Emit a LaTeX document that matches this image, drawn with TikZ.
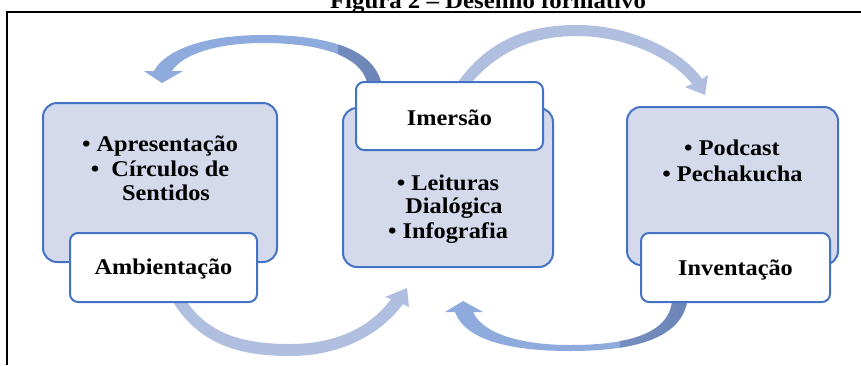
\documentclass[tikz,border=0pt]{standalone}
\usepackage{fontspec}
\setmainfont[FakeStretch=1.08]{Liberation Serif}
\definecolor{boxfill}{RGB}{212,218,236}
\definecolor{bord}{RGB}{68,114,196}
\definecolor{lightarrow}{RGB}{176,190,224}
\definecolor{medarrow}{RGB}{143,170,220}
\definecolor{darkarrow}{RGB}{108,132,182}
\begin{document}
\begin{tikzpicture}[x=1pt,y=-1pt,
  bigbox/.style={draw=bord, line width=2pt, fill=boxfill, rounded corners=14pt, inner sep=0pt},
  smallbox/.style={draw=bord, line width=2pt, fill=white, rounded corners=8pt, inner sep=0pt},
  txt/.style={anchor=base, font=\fontsize{22.5}{25}\selectfont\bfseries, inner sep=0pt},
  ttl/.style={anchor=base, font=\fontsize{23}{26}\selectfont\bfseries, inner sep=0pt}]
\useasboundingbox (0,0) rectangle (861,365);
\begin{scope}
\clip (0,0) rectangle (861,365);
\node[ttl] (title) at (488,8) {Figura 2 – Desenho formativo};
\end{scope}
\coordinate (fa) at (7,365);
\coordinate (fb) at (7,12);
\coordinate (fc) at (861,12);
\draw[line width=1.5pt] (fa) -- (fb) -- (fc);

% top-left curved arrow (Imersao -> Ambientacao)
\fill[medarrow] (381,82) .. controls (372,48) and (325,35) .. (263,35) .. controls (205,35) and (165,50) .. (154,71) -- (144,71) -- (162,83) -- (183,71) -- (172,71) .. controls (182,55) and (215,43) .. (263,43) .. controls (318,43) and (360,55) .. (367,82) -- cycle;
\begin{scope}
\clip (338,20) rectangle (395,90);
\shade[left color=medarrow, right color=darkarrow] (381,82) .. controls (372,48) and (325,35) .. (263,35) .. controls (205,35) and (165,50) .. (154,71) -- (144,71) -- (162,83) -- (183,71) -- (172,71) .. controls (182,55) and (215,43) .. (263,43) .. controls (318,43) and (360,55) .. (367,82) -- cycle;
\end{scope}

% top-right curved arrow (Imersao -> Inventacao)
\fill[lightarrow] (458,82) .. controls (490,38) and (530,25) .. (577,25) .. controls (630,25) and (682,50) .. (702,79) -- (708,75) -- (705,95) -- (685,87) -- (692,84) .. controls (672,58) and (625,36) .. (577,36) .. controls (535,36) and (500,50) .. (472,82) -- cycle;

% bottom-left curved arrow (Ambientacao -> Imersao)
\fill[lightarrow] (173,302) .. controls (200,345) and (240,356) .. (290,356) .. controls (340,356) and (380,335) .. (403,304) -- (409,307) -- (407,288) -- (385,297) -- (391,299) .. controls (370,328) and (335,344) .. (290,344) .. controls (245,344) and (210,335) .. (187,302) -- cycle;

% bottom-right curved arrow (Inventacao -> Imersao)
\fill[medarrow] (687,302) .. controls (680,340) and (630,351) .. (570,351) .. controls (510,351) and (465,340) .. (455,312) -- (445,312) -- (463,301) -- (483,312) -- (473,312) .. controls (482,333) and (520,345) .. (570,345) .. controls (625,345) and (668,335) .. (672,302) -- cycle;
\begin{scope}
\clip (620,290) rectangle (700,360);
\shade[left color=medarrow, right color=darkarrow] (687,302) .. controls (680,340) and (630,351) .. (570,351) .. controls (510,351) and (465,340) .. (455,312) -- (445,312) -- (463,301) -- (483,312) -- (473,312) .. controls (482,333) and (520,345) .. (570,345) .. controls (625,345) and (668,335) .. (672,302) -- cycle;
\end{scope}

% boxes
\node[bigbox, minimum width=234pt, minimum height=159pt] (L) at (160,182.5) {};
\node[smallbox, minimum width=187pt, minimum height=69pt] (Lh) at (163.5,267.5) {};
\node[bigbox, minimum width=210pt, minimum height=159pt] (M) at (448,187.5) {};
\node[smallbox, minimum width=187pt, minimum height=68pt] (Mh) at (449.5,116) {};
\node[bigbox, minimum width=211pt, minimum height=158pt] (R) at (732.5,186) {};
\node[smallbox, minimum width=189pt, minimum height=69pt] (Rh) at (735.5,267.5) {};

% texts
\node[txt] (l1) at (160,151) {• Apresentação};
\node[txt] (l2) at (160,176) {•\ \ Círculos de};
\node[txt] (l3) at (166,200) {Sentidos};
\node[txt] (lt) at (163.5,274) {Ambientação};
\node[txt] (mt) at (449.5,125) {Imersão};
\node[txt] (m1) at (448,190) {• Leituras};
\node[txt] (m2) at (454,213) {Dialógica};
\node[txt] (m3) at (448,238) {• Infografia};
\node[txt] (r1) at (732,155) {• Podcast};
\node[txt] (r2) at (732.5,181) {• Pechakucha};
\node[txt] (rt) at (735.5,275) {Inventação};
\end{tikzpicture}
\end{document}
